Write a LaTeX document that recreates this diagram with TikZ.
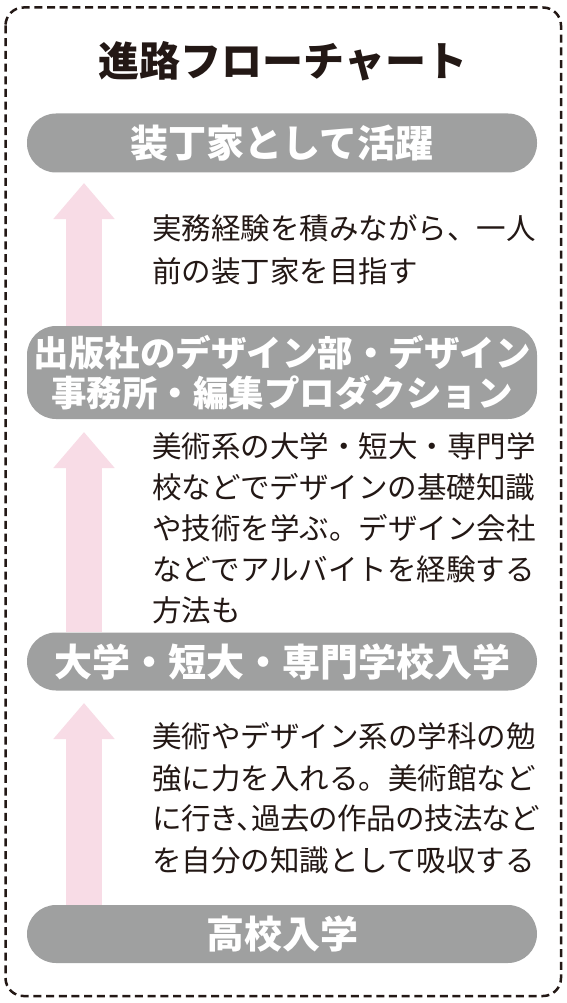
\documentclass[tikz,border=0pt]{standalone}
\usepackage{fontspec}
\setmainfont{Noto Sans CJK JP}
\usetikzlibrary{arrows.meta}
\definecolor{ink}{HTML}{231815}
\definecolor{boxgray}{HTML}{9FA0A0}
\definecolor{arrowpink}{HTML}{F8DCE6}
\begin{document}
\begin{tikzpicture}[x=1pt,y=-1pt,
  stagebox/.style={fill=boxgray, rounded corners=29pt, minimum width=510pt,
    minimum height=59pt, text=white, inner sep=0pt, align=center,
    font=\bfseries\fontsize{38}{40}\selectfont},
  bodyline/.style={anchor=base west, inner sep=0pt, text=ink,
    font=\fontsize{29.5}{41}\selectfont},
  uparrow/.style={draw=arrowpink, line width=36pt,
    -{Triangle[width=59pt,length=36pt]}, arrowpink}
]
\fill[white] (0,0) rectangle (566,1003);
\useasboundingbox (0,0) rectangle (566,1003);
\draw[ink, line width=2.5pt, dash pattern=on 8pt off 4.7pt, rounded corners=18pt]
  (5.5,7.5) rectangle (561,996);

\node[anchor=base, inner sep=0pt, text=ink, font=\bfseries\fontsize{41}{44}\selectfont]
  (title) at (283,76.5) {進路フローチャート};

\node[stagebox] (b1) at (282,143) {装丁家として活躍};
\node[stagebox, minimum height=93pt, font=\bfseries\fontsize{35.5}{40}\selectfont]
  (b2) at (282,372.5) {出版社のデザイン部・デザイン\\事務所・編集プロダクション};
\node[stagebox, minimum height=58pt] (b3) at (282,661.5) {大学・短大・専門学校入学};
\node[stagebox, minimum height=58pt] (b4) at (282,934) {高校入学};

\coordinate (tip1) at (84,183);
\coordinate (tip2) at (84,432);
\coordinate (tip3) at (84,703);
\draw[uparrow] (b2.north -| tip1) -- (tip1);
\draw[uparrow] (b3.north -| tip2) -- (tip2);
\draw[uparrow] (b4.north -| tip3) -- (tip3);

\node[bodyline] (t1a) at (152,239) {実務経験を積みながら、一人};
\node[bodyline] (t1b) at (152,282) {前の装丁家を目指す};

\node[bodyline] (t2a) at (152,457) {美術系の大学・短大・専門学};
\node[bodyline] (t2b) at (152,498) {校などでデザインの基礎知識};
\node[bodyline] (t2c) at (152,539) {や技術を学ぶ。デザイン会社};
\node[bodyline] (t2d) at (152,580) {などでアルバイトを経験する};
\node[bodyline] (t2e) at (152,621) {方法も};

\node[bodyline] (t3a) at (152,747) {美術やデザイン系の学科の勉};
\node[bodyline] (t3b) at (152,789) {強に力を入れる。美術館など};
\node[bodyline] (t3c) at (152,829) {\addfontfeature{LetterSpace=-2.3}に行き、\kern-0.5em 過去の作品の技法など};
\node[bodyline] (t3d) at (152,871) {を自分の知識として吸収する};
\end{tikzpicture}
\end{document}
